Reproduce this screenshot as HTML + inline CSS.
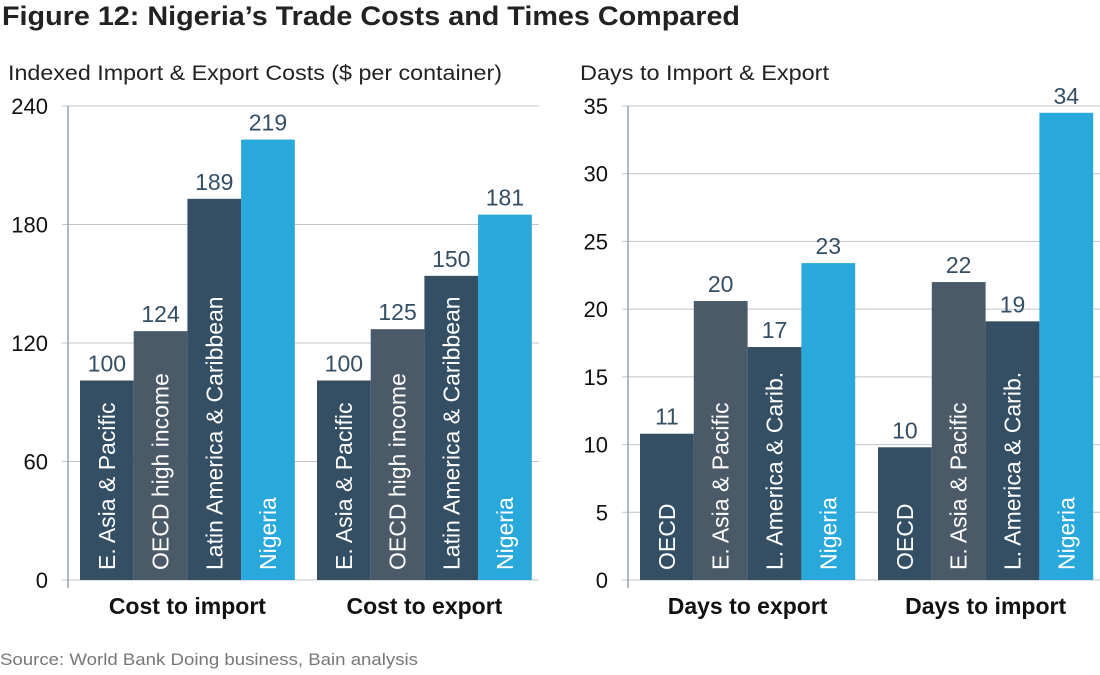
<!DOCTYPE html>
<html><head><meta charset="utf-8"><style>
body{margin:0;background:#fff;width:1100px;height:670px;overflow:hidden;font-family:"Liberation Sans",sans-serif}
svg text{font-family:"Liberation Sans",sans-serif}
</style></head><body>
<svg id="c" width="1100" height="670">
<text x="2" y="25" font-size="27" font-weight="bold" fill="#222" textLength="738" lengthAdjust="spacingAndGlyphs">Figure 12: Nigeria’s Trade Costs and Times Compared</text>
<text x="8" y="80" font-size="21" fill="#222" textLength="494" lengthAdjust="spacingAndGlyphs">Indexed Import &amp; Export Costs ($ per container)</text>
<text x="580" y="80" font-size="21" fill="#222" textLength="249" lengthAdjust="spacingAndGlyphs">Days to Import &amp; Export</text>
<text x="0" y="665" font-size="17" fill="#777" textLength="418" lengthAdjust="spacingAndGlyphs">Source: World Bank Doing business, Bain analysis</text>
</svg>
<script>
const leftGroups=["Cost to import","Cost to export"];
const leftSeries=[["E. Asia & Pacific","OECD high income","Latin America & Caribbean","Nigeria"],["E. Asia & Pacific","OECD high income","Latin America & Caribbean","Nigeria"]];
const leftValues=[[100,124,189,219],[100,125,150,181]];
const leftHeights=[[101,126,193,223],[101,127,154,185]];
const leftTicks=[0,60,120,180,240];
const rightGroups=["Days to export","Days to import"];
const rightSeries=[["OECD","E. Asia & Pacific","L. America & Carib.","Nigeria"],["OECD","E. Asia & Pacific","L. America & Carib.","Nigeria"]];
const rightValues=[[11,20,17,23],[10,22,19,34]];
const rightHeights=[[10.8,20.6,17.2,23.4],[9.8,22,19.1,34.5]];
const rightTicks=[0,5,10,15,20,25,30,35];
const leftColors=["#344e63","#4a5a69","#344e63","#29a8dc"];
const rightColors=["#344e63","#4a5a69","#344e63","#29a8dc"];
const NS="http://www.w3.org/2000/svg";
const svg=document.getElementById('c');
function mk(tag,attrs,txt){const e=document.createElementNS(NS,tag);for(const k in attrs)e.setAttribute(k,attrs[k]);if(txt!==undefined)e.textContent=txt;svg.appendChild(e);return e;}
function chart(o){
  const y=v=>o.y0-(v/o.max)*(o.y0-o.yTop);
  o.ticks.forEach(t=>{
    const g=mk('line',{x1:o.ax-6,x2:o.gx,y1:y(t),y2:y(t),stroke:'#bfc5cc','stroke-width':1});
    
    
    const l=mk('text',{x:o.ax-20,y:y(t)+8,'font-size':22,'text-anchor':'end',fill:'#111'},t);
    
    
  });
  const a=mk('line',{x1:o.ax,x2:o.ax,y1:o.yTop,y2:o.y0+8,stroke:'#9aa3ad','stroke-width':1.5});
  
  
  o.groups.forEach((gname,gi)=>{
    const gx=o.gStart[gi];
    o.vals[gi].forEach((v,i)=>{
      const x=gx+i*o.bw, top=y(o.h[gi][i]);
      const r=mk('rect',{x:x,y:top,width:o.bw,height:o.y0-top,fill:o.colors[i]});
      
      
      const vl=mk('text',{x:x+o.bw/2,y:top-9,'font-size':23,'text-anchor':'middle',fill:'#344e63'},v);
      
      
      const bx=x+o.bw/2+8, by=o.y0-10;
      const bl=mk('text',{x:bx,y:by,'font-size':23,fill:'#fff',transform:`rotate(-90 ${bx} ${by})`},o.series[gi][i]);
      
      
    });
    const cl=mk('text',{x:gx+2*o.bw,y:614,'font-size':23,'font-weight':'bold','text-anchor':'middle',fill:'#111'},gname);
    
    
  });
}
chart({ax:68,gx:539,yTop:106,y0:580,max:240,ticks:leftTicks,groups:leftGroups,series:leftSeries,vals:leftValues,h:leftHeights,colors:leftColors,gStart:[80,317],bw:53.7});
chart({ax:628,gx:1100,yTop:106,y0:580,max:35,ticks:rightTicks,groups:rightGroups,series:rightSeries,vals:rightValues,h:rightHeights,colors:rightColors,gStart:[640,878],bw:53.8});
</script>
</body></html>
